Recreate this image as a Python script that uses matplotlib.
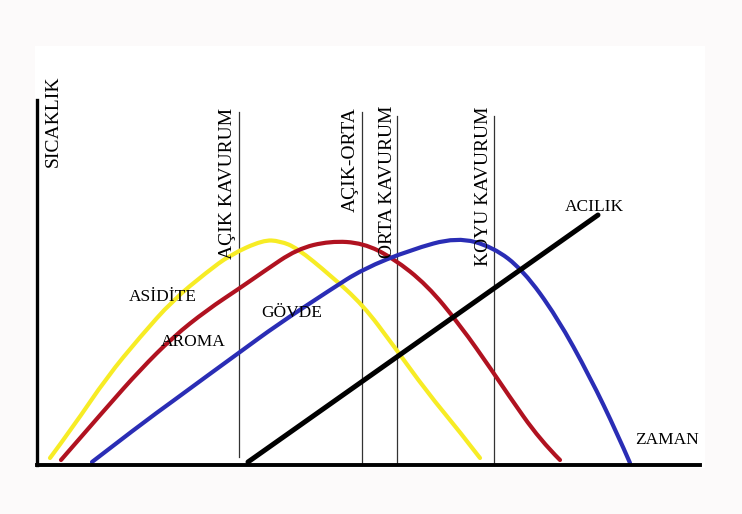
import matplotlib.pyplot as plt
from matplotlib.patches import Rectangle, PathPatch
from matplotlib.path import Path

# values (x = time, y = temperature, both in pixel-like units
# measured from the axis origin)
asidite_x = [13, 36, 70, 103, 136, 170, 193, 226, 243, 260, 293, 326, 356, 390, 423, 443]
asidite_y = [7, 38, 88, 128, 165, 193, 210, 225, 224, 217, 190, 160, 120, 73, 33, 7]

aroma_x = [24, 70, 103, 136, 170, 203, 226, 260, 293, 326, 356, 390, 423, 456, 470, 503, 523]
aroma_y = [5, 58, 95, 128, 155, 177, 193, 216, 224, 222, 207, 180, 140, 93, 72, 25, 5]

govde_x = [55, 103, 136, 170, 203, 240, 293, 326, 373, 420, 456, 486, 520, 553, 580, 593]
govde_y = [3, 40, 64, 89, 113, 140, 175, 196, 215, 228, 218, 195, 148, 88, 32, 2]

acilik_x = [211, 561]
acilik_y = [3, 250]

# roast stage markers: position, bottom, top of line
stage_names = ["AÇIK KAVURUM", "AÇIK-ORTA", "ORTA KAVURUM", "KOYU KAVURUM"]
stage_x = [202, 325, 360, 457]
stage_y0 = [8, 0, 0, 0]
stage_y1 = [353, 353, 349, 349]
stage_label_pos = [(191, 282), (313, 305), (350, 283), (447, 279)]

y_axis_top = 365
x_axis_end = 663


def smooth_curve(xs, ys, color, z):
    # read points used as quadratic bezier control points -> smooth hand-drawn look
    pts = list(zip(xs, ys))
    verts = [pts[0]]
    codes = [Path.MOVETO]
    for i in range(1, len(pts) - 1):
        mid = ((pts[i][0] + pts[i + 1][0]) / 2, (pts[i][1] + pts[i + 1][1]) / 2)
        if i == len(pts) - 2:
            mid = pts[-1]
        verts += [pts[i], mid]
        codes += [Path.CURVE3, Path.CURVE3]
    patch = PathPatch(Path(verts, codes), facecolor="none", edgecolor=color,
                      lw=3, capstyle="round", joinstyle="round", zorder=z)
    ax.add_patch(patch)


fig = plt.figure(figsize=(7.42, 5.14), dpi=100, facecolor="#fcfafa")
ax = fig.add_axes([0, 0, 1, 1])
ax.set_xlim(-37, 705)
ax.set_ylim(-49, 465)
ax.axis("off")

# white drawing area
ax.add_patch(Rectangle((-2, -3), 670, 422, facecolor="white", edgecolor="none", zorder=0))

serif = "Liberation Serif"

# stage lines
for x, y0, y1 in zip(stage_x, stage_y0, stage_y1):
    ax.plot([x, x], [y0, y1], color="#333333", lw=0.9, zorder=1)

# curves
smooth_curve(asidite_x, asidite_y, "#f7ec25", 2)
smooth_curve(aroma_x, aroma_y, "#b01220", 3)
smooth_curve(govde_x, govde_y, "#2a2db5", 4)
ax.plot(acilik_x, acilik_y, color="black", lw=3.6, solid_capstyle="round", zorder=5)

# axes
ax.plot([0, 0], [0, y_axis_top], color="black", lw=2.4, zorder=6)
ax.plot([0, x_axis_end], [0, 0], color="black", lw=2.8, zorder=6)

# labels
ax.text(16, 344, "SICAKLIK", rotation=90, ha="center", va="center",
        fontsize=14, family=serif, zorder=7)
for name, (tx, ty) in zip(stage_names, stage_label_pos):
    ax.text(tx, ty, name, rotation=90, ha="center", va="center",
            fontsize=14, family=serif, zorder=7)

ax.text(557, 258, "ACILIK", ha="center", va="center", fontsize=12.5, family=serif, zorder=7)
ax.text(126, 168, "ASİDİTE", ha="center", va="center", fontsize=12.5, family=serif, zorder=7)
ax.text(156, 123, "AROMA", ha="center", va="center", fontsize=12.5, family=serif, zorder=7)
ax.text(255, 152, "GÖVDE", ha="center", va="center", fontsize=12.5, family=serif, zorder=7)
ax.text(630, 25, "ZAMAN", ha="center", va="center", fontsize=12.5, family=serif, zorder=7)

fig.savefig("out.png", dpi=100, facecolor=fig.get_facecolor())
